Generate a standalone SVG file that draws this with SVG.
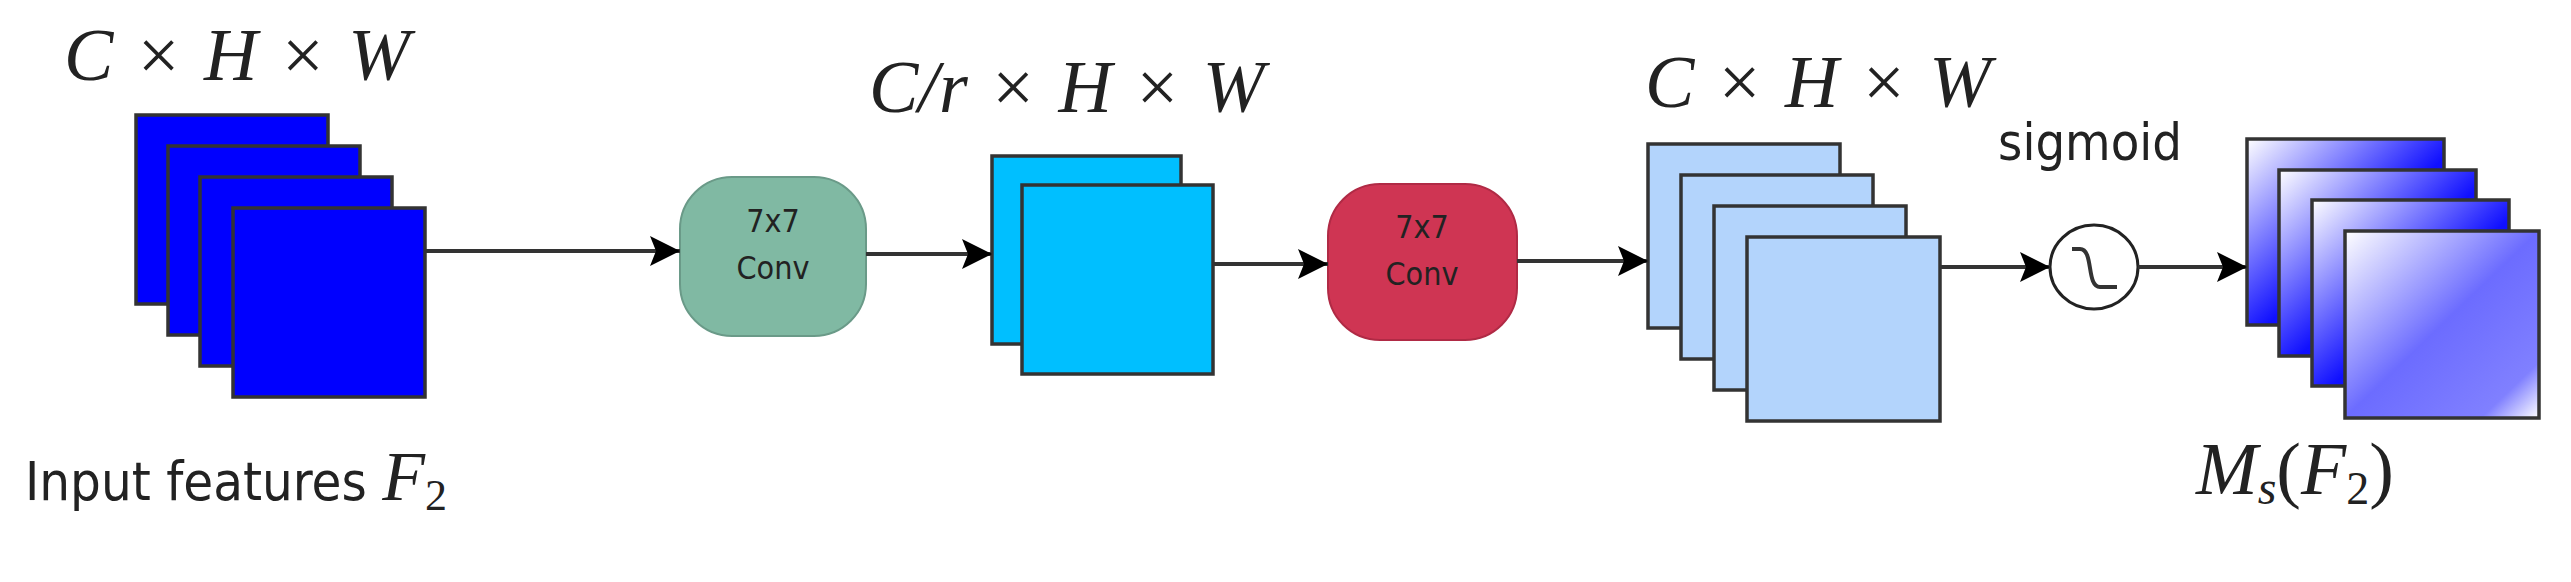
<svg xmlns="http://www.w3.org/2000/svg" width="2571" height="582" viewBox="0 0 2571 582">
<style>
.m{font-family:"Liberation Serif",serif;font-style:italic;font-size:74px;fill:#222}
.n{font-style:normal}
.s{font-family:"DejaVu Sans Condensed","DejaVu Sans",sans-serif;fill:#222}
.f{stroke:#333;stroke-width:3.5}
.ln{stroke:#333;stroke-width:4;fill:none}
</style>
<defs>
<marker id="ah" viewBox="0 0 10 10" refX="10" refY="5" markerWidth="34" markerHeight="30" markerUnits="userSpaceOnUse" orient="auto"><path d="M0,0 L10,5 L0,10 L2,5 z" fill="#000"/></marker>
<linearGradient id="gb" x1="0" y1="0" x2="1" y2="1"><stop offset="0" stop-color="#fff"/><stop offset="0.55" stop-color="#1010ff"/><stop offset="1" stop-color="#0000ff"/></linearGradient>
<linearGradient id="gf" x1="0" y1="0" x2="1" y2="1"><stop offset="0" stop-color="#fff"/><stop offset="0.5" stop-color="#6c6cff"/><stop offset="0.85" stop-color="#8080ff"/><stop offset="1" stop-color="#fff"/></linearGradient>
</defs>
<g id="label-in-dims"><text class="m" x="64" y="80" word-spacing="6">C <tspan class="n">×</tspan> H <tspan class="n">×</tspan> W</text></g>
<g id="input-features" fill="#0000ff">
<rect class="f" x="136" y="115" width="192" height="189"/>
<rect class="f" x="168" y="146" width="192" height="189"/>
<rect class="f" x="200" y="177" width="192" height="189"/>
<rect class="f" x="233" y="208" width="192" height="189"/>
</g>
<g id="label-input"><text class="s" x="25" y="500" font-size="54">Input features <tspan class="m" style="font-size:70px">F</tspan><tspan class="m n" style="font-size:44px" dy="10">2</tspan></text></g>
<g id="conv1"><rect x="680" y="177" width="186" height="159" rx="52" fill="#80b9a3" stroke="#6a9a88" stroke-width="2"/>
<text class="s" x="773" y="232" font-size="32" text-anchor="middle">7x7</text><text class="s" x="773" y="279" font-size="32" text-anchor="middle">Conv</text></g>
<g id="label-reduced"><text class="m" x="869" y="112" word-spacing="6">C/r <tspan class="n">×</tspan> H <tspan class="n">×</tspan> W</text></g>
<g id="reduced" fill="#00bfff">
<rect class="f" x="992" y="156" width="189" height="188"/>
<rect class="f" x="1022" y="185" width="191" height="189"/>
</g>
<g id="conv2"><rect x="1328" y="184" width="189" height="156" rx="52" fill="#cf3553" stroke="#b02a45" stroke-width="2"/>
<text class="s" x="1422" y="238" font-size="32" text-anchor="middle">7x7</text><text class="s" x="1422" y="285" font-size="32" text-anchor="middle">Conv</text></g>
<g id="label-out-dims"><text class="m" x="1645" y="107" word-spacing="6">C <tspan class="n">×</tspan> H <tspan class="n">×</tspan> W</text></g>
<g id="expanded" fill="#b3d4fc">
<rect class="f" x="1648" y="144" width="192" height="184"/>
<rect class="f" x="1681" y="175" width="192" height="184"/>
<rect class="f" x="1714" y="206" width="192" height="184"/>
<rect class="f" x="1747" y="237" width="193" height="184"/>
</g>
<g id="sigmoid"><text class="s" x="2090" y="160" font-size="52" text-anchor="middle">sigmoid</text>
<ellipse cx="2094" cy="267" rx="44" ry="42" fill="#fff" stroke="#222" stroke-width="3"/>
<path d="M2072,249 L2080,249 C2094,249 2086,287 2100,287 L2117,287" class="ln" stroke-width="3"/></g>
<g id="output">
<rect class="f" x="2247" y="139" width="197" height="186" fill="url(#gb)"/>
<rect class="f" x="2279" y="170" width="197" height="186" fill="url(#gb)"/>
<rect class="f" x="2312" y="200" width="197" height="186" fill="url(#gb)"/>
<rect class="f" x="2345" y="231" width="194" height="187" fill="url(#gf)"/>
</g>
<g id="label-out"><text class="m" x="2196" y="494">M<tspan style="font-size:48px" dy="10">s</tspan><tspan class="n" dy="-10">(</tspan>F<tspan class="n" style="font-size:46px" dy="10">2</tspan><tspan class="n" dy="-10">)</tspan></text></g>
<g id="connectors" stroke="#333" stroke-width="4" fill="none">
<line x1="425" y1="251" x2="680" y2="251" marker-end="url(#ah)"/>
<line x1="866" y1="254" x2="992" y2="254" marker-end="url(#ah)"/>
<line x1="1213" y1="264" x2="1328" y2="264" marker-end="url(#ah)"/>
<line x1="1517" y1="261" x2="1648" y2="261" marker-end="url(#ah)"/>
<line x1="1940" y1="267" x2="2050" y2="267" marker-end="url(#ah)"/>
<line x1="2138" y1="267" x2="2247" y2="267" marker-end="url(#ah)"/>
</g>
</svg>
